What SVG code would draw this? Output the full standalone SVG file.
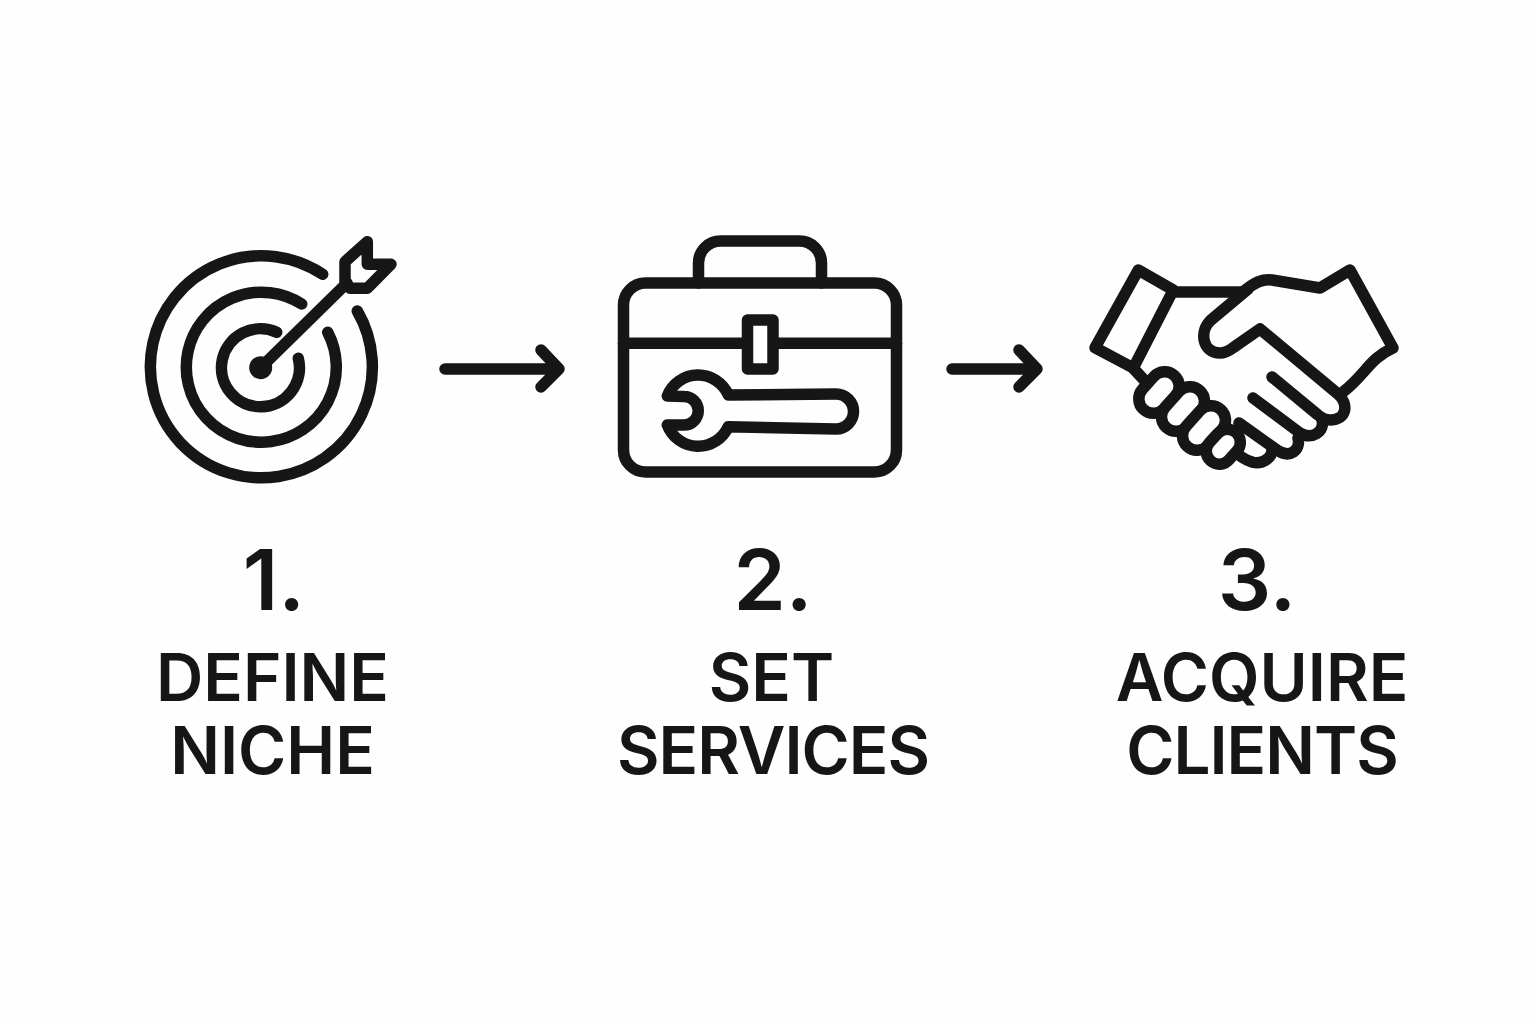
<svg xmlns="http://www.w3.org/2000/svg" width="1536" height="1024" viewBox="0 0 1536 1024">
<style>
.s{fill:none;stroke:#161616;stroke-width:11.5;stroke-linecap:round;stroke-linejoin:round}
.f{fill:#fefefe}
text{font-family:Inter,"Liberation Sans",sans-serif;font-weight:600;fill:#161616;text-anchor:middle;font-size:65.5px}
.n{font-size:84px}
.t{letter-spacing:-1px}
</style>
<rect width="1536" height="1024" fill="#fefefe"/>
<g id="node1">
<g class="s">
<path d="M322.700 274.300A111 111 0 1 0 357.300 311"/>
<path d="M301.700 304A75 75 0 1 0 327.700 332.300"/>
<path d="M276.700 332.300A39 39 0 1 0 298.300 358.300"/>
<path d="M260.700 367.700L347 283"/>
<path d="M345 261.700L367.300 241.700V264.300H391L367.300 288.300H350L345 281.700Z"/>
</g>
<circle cx="260.700" cy="367.700" r="11.500" fill="#161616"/>
<text x="274" y="610" class="n">1.</text>
<text x="272.500" y="700.500">DEFINE</text>
<text x="272.500" y="773.500">NICHE</text>
</g>
<g id="node2">
<g class="s">
<path d="M698.500 283V263A22 22 0 0 1 720.500 241H799.500A22 22 0 0 1 821.500 263V283"/>
<rect x="623.500" y="283" width="273" height="189" rx="22"/>
<path d="M623.500 343.300H896.500"/>
<rect x="747.500" y="320" width="25.500" height="49" class="f"/>
<path d="M667.300 396A33 33 0 0 1 728.300 395L836 394A17.500 17.500 0 0 1 836 429L728.300 426.700A33 33 0 0 1 667.300 425H684A14 14 0 0 0 684 396.500Z"/>
</g>
<text x="773" y="610" class="n">2.</text>
<text x="771.500" y="700.500">SET</text>
<text x="773" y="773.500" class="t">SERVICES</text>
</g>
<g id="node3">
<g class="s">
<path d="M1138.300 270L1173.300 290L1133.300 368L1095 347.700Z"/>
<path d="M1173 292H1243"/>
<path d="M1133 368L1146 382"/>
<path d="M1248 289L1211 320C1199 331 1202 353 1220 353C1228 353 1232 348 1237 345L1260 329L1338 394C1349 404 1347 420 1330 420C1325 420 1322 418 1318 415L1272 377"/>
<path d="M1243 292C1255 282 1262 279 1272 280L1320 288L1350 270L1393 348C1370 358 1365 375 1343 392"/>
<path d="M1322 420C1325 432 1312 440 1300 433L1253 398"/>
<path d="M1298 438C1301 450 1290 459 1277 450L1239 423"/>
<path d="M1272 450C1272 458 1262 465 1252 462C1246 460 1240 457 1236 452"/>
<rect x="1136" y="378" width="46" height="29" rx="14.500" transform="rotate(-48 1159 392.500)" class="f"/>
<rect x="1158" y="394.500" width="50" height="29" rx="14.500" transform="rotate(-48 1183 409)" class="f"/>
<rect x="1179" y="413.500" width="50" height="29" rx="14.500" transform="rotate(-48 1204 428)" class="f"/>
<rect x="1204.300" y="433.700" width="38" height="26" rx="13" transform="rotate(-48 1223.300 446.700)" class="f"/>
</g>
<text x="1257" y="610" class="n">3.</text>
<text x="1262" y="700.500">ACQUIRE</text>
<text x="1262" y="773.500" class="t">CLIENTS</text>
</g>
<g id="connectors" class="s">
<path d="M445 369H559M541 350L559 369L541 387"/>
<path d="M952 369H1037M1019 350L1037 369L1019 387"/>
</g>
</svg>
